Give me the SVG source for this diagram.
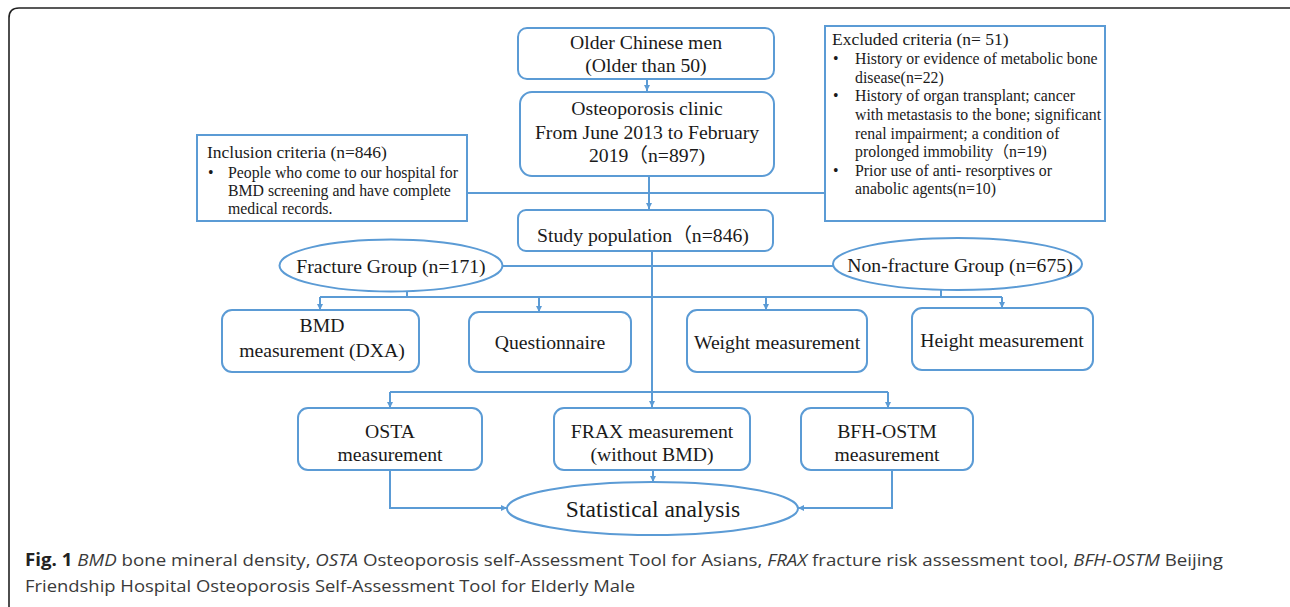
<svg xmlns="http://www.w3.org/2000/svg" width="1290" height="607" viewBox="0 0 1290 607">
<style>
.box{fill:#fff;stroke:#5b9bd5;stroke-width:2}
.ln{fill:none;stroke:#5b9bd5;stroke-width:2}
.arr{fill:none;stroke:#5b9bd5;stroke-width:2;marker-end:url(#ah)}
.t{font-family:"Liberation Serif","Times New Roman","Noto Sans CJK SC",serif;font-size:19.7px;fill:#1a1a1a;text-anchor:middle}
.s{font-family:"Liberation Serif","Times New Roman","Noto Sans CJK SC",serif;font-size:15.8px;fill:#1a1a1a}
.h{font-family:"Liberation Serif","Times New Roman",serif;font-size:17.5px;fill:#1a1a1a}
.cap{font-family:"Open Sans","Noto Sans",sans-serif;font-size:17px;fill:#3a3a3a}
</style>
<defs>
<marker id="ah" markerUnits="userSpaceOnUse" markerWidth="7" markerHeight="7" refX="6" refY="3.5" orient="auto">
<path d="M0,0.5 L6,3.5 L0,6.5 z" fill="#5b9bd5"/>
</marker>
</defs>
<rect width="1290" height="607" fill="#fff"/>
<path d="M9,607 V18 Q9,8 19,8 H1292" fill="none" stroke="#222" stroke-width="1.6"/>

<g id="connectors">
<path class="arr" d="M647,79 V91"/>
<path class="arr" d="M649,176 V209"/>
<path class="ln" d="M467,193 H825"/>
<path class="arr" d="M652,251 V407"/>
<path class="ln" d="M503,266 H833"/>
<path class="ln" d="M407,291 V297"/>
<path class="ln" d="M941,290 V297"/>
<path class="ln" d="M320,297 H1002"/>
<path class="arr" d="M320,297 V310"/>
<path class="arr" d="M539,297 V312"/>
<path class="arr" d="M766,297 V310"/>
<path class="arr" d="M1002,297 V308"/>
<path class="ln" d="M390,392 H888"/>
<path class="arr" d="M390,392 V408"/>
<path class="arr" d="M888,392 V408"/>
<path class="arr" d="M390,470 V508 H507"/>
<path class="arr" d="M892,470 V508 H798"/>
<path class="arr" d="M653,470 V482"/>
</g>

<g id="older">
<rect class="box" x="518" y="28" width="256" height="51" rx="9"/>
<text class="t" x="646" y="49">Older Chinese men</text>
<text class="t" x="646" y="72">(Older than 50)</text>
</g>

<g id="clinic">
<rect class="box" x="520" y="92" width="254" height="84" rx="12"/>
<text class="t" x="647" y="115">Osteoporosis clinic</text>
<text class="t" x="647" y="139">From June 2013 to February</text>
<text class="t" x="647" y="162">2019（n=897)</text>
</g>

<g id="inclusion">
<rect class="box" x="197" y="135" width="270" height="86"/>
<text class="h" x="207" y="158">Inclusion criteria (n=846)</text>
<text class="s" x="208" y="178">•</text>
<text class="s" x="228" y="178">People who come to our hospital for</text>
<text class="s" x="228" y="196">BMD screening and have complete</text>
<text class="s" x="228" y="214">medical records.</text>
</g>

<g id="excluded">
<rect class="box" x="825" y="26" width="280" height="195"/>
<text class="h" x="832" y="45">Excluded criteria (n= 51)</text>
<text class="s" x="833" y="64">•</text>
<text class="s" x="855" y="64">History or evidence of metabolic bone</text>
<text class="s" x="855" y="83">disease(n=22)</text>
<text class="s" x="833" y="101">•</text>
<text class="s" x="855" y="101">History of organ transplant; cancer</text>
<text class="s" x="855" y="120">with metastasis to the bone; significant</text>
<text class="s" x="855" y="138.5">renal impairment; a condition of</text>
<text class="s" x="855" y="157">prolonged immobility（n=19)</text>
<text class="s" x="833" y="175.5">•</text>
<text class="s" x="855" y="175.5">Prior use of anti- resorptives or</text>
<text class="s" x="855" y="194">anabolic agents(n=10)</text>
</g>

<g id="study">
<rect class="box" x="518" y="210" width="255" height="41" rx="8"/>
<text class="t" x="643" y="242">Study population（n=846)</text>
</g>

<g id="fracture">
<ellipse class="box" cx="391" cy="265.5" rx="111.5" ry="26"/>
<text class="t" x="391" y="273">Fracture Group (n=171)</text>
</g>

<g id="nonfracture">
<ellipse class="box" cx="957.5" cy="264" rx="124.5" ry="26"/>
<text class="t" x="960" y="272">Non-fracture Group (n=675)</text>
</g>

<g id="bmd">
<rect class="box" x="222" y="310" width="197" height="62" rx="10"/>
<text class="t" x="322" y="332">BMD</text>
<text class="t" x="322" y="357">measurement (DXA)</text>
</g>

<g id="questionnaire">
<rect class="box" x="469" y="312" width="162" height="60" rx="10"/>
<text class="t" x="550" y="349">Questionnaire</text>
</g>

<g id="weight">
<rect class="box" x="687" y="310" width="180" height="62" rx="10"/>
<text class="t" x="777" y="349">Weight measurement</text>
</g>

<g id="height">
<rect class="box" x="912" y="308" width="181" height="62" rx="10"/>
<text class="t" x="1002" y="347">Height measurement</text>
</g>

<g id="osta">
<rect class="box" x="298" y="408" width="184" height="62" rx="10"/>
<text class="t" x="390" y="438">OSTA</text>
<text class="t" x="390" y="461">measurement</text>
</g>

<g id="frax">
<rect class="box" x="554" y="408" width="196" height="62" rx="10"/>
<text class="t" x="652" y="438">FRAX measurement</text>
<text class="t" x="652" y="461">(without BMD)</text>
</g>

<g id="bfh">
<rect class="box" x="801" y="408" width="172" height="62" rx="10"/>
<text class="t" x="887" y="438">BFH-OSTM</text>
<text class="t" x="887" y="461">measurement</text>
</g>

<g id="statistical">
<ellipse class="box" cx="652.5" cy="508.5" rx="145.5" ry="26.5"/>
<text class="t" x="653" y="517" style="font-size:23.5px">Statistical analysis</text>
</g>

<g id="caption">
<text class="cap" x="25" y="566" textLength="1198" lengthAdjust="spacingAndGlyphs"><tspan font-weight="bold" fill="#222">Fig. 1</tspan> <tspan font-style="italic">BMD</tspan> bone mineral density, <tspan font-style="italic">OSTA</tspan> Osteoporosis self-Assessment Tool for Asians, <tspan font-style="italic">FRAX</tspan> fracture risk assessment tool, <tspan font-style="italic">BFH-OSTM</tspan> Beijing</text>
<text class="cap" x="25" y="592" textLength="610" lengthAdjust="spacingAndGlyphs">Friendship Hospital Osteoporosis Self-Assessment Tool for Elderly Male</text>
</g>
</svg>
